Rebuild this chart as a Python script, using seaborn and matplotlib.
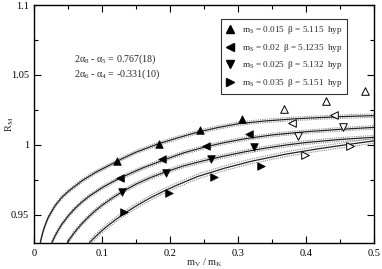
import matplotlib
matplotlib.use("Agg")
import matplotlib.pyplot as plt
import seaborn as sns
from matplotlib.ticker import MultipleLocator, FormatStrFormatter
from matplotlib.lines import Line2D

sns.set_theme(style="ticks")
plt.rcParams["font.family"] = ["Liberation Serif", "DejaVu Serif"]
plt.rcParams["mathtext.fontset"] = "custom"
plt.rcParams["mathtext.rm"] = "Liberation Serif"
plt.rcParams["mathtext.it"] = "Liberation Serif"

# legend text
ms_labels = ["0.015", "0.02", "0.025", "0.035"]
beta_labels = ["5.115", "5.1235", "5.132", "5.151"]

# fitted points (filled)
up_x = [0.122, 0.183, 0.244, 0.3054]
up_y = [0.9886, 1.0007, 1.0105, 1.0186]
left_x = [0.126, 0.188, 0.2515, 0.315]
left_y = [0.9762, 0.9898, 0.9995, 1.0079]
down_x = [0.129, 0.194, 0.259, 0.3235]
down_y = [0.9667, 0.9798, 0.99, 0.9988]
right_x = [0.132, 0.1976, 0.2647, 0.3324]
right_y = [0.952, 0.9655, 0.9768, 0.9852]

# points not in fit (open)
up_open_x = [0.3667, 0.428, 0.486]
up_open_y = [1.0257, 1.0316, 1.0383]
left_open_x = [0.379, 0.440]
left_open_y = [1.0154, 1.0216]
down_open_x = [0.388, 0.454]
down_open_y = [1.0066, 1.0131]
right_open_x = [0.3985, 0.4647]
right_open_y = [0.9931, 0.9995]

# fit curves
curve1_x = [0.0085, 0.009, 0.010, 0.012, 0.015, 0.02, 0.03, 0.04, 0.05, 0.07, 0.09, 0.11,
            0.13, 0.15, 0.18, 0.21, 0.24, 0.27, 0.30, 0.34, 0.38, 0.42, 0.46, 0.50]
curve1_y = [0.930, 0.9312, 0.9334, 0.9372, 0.9419, 0.948, 0.9565, 0.9625, 0.967, 0.9745, 0.9805, 0.9855,
            0.9905, 0.995, 1.0005, 1.005, 1.0092, 1.0125, 1.0152, 1.0172, 1.0186, 1.0196, 1.0204, 1.021]
curve2_x = [0.0254, 0.027, 0.03, 0.035, 0.04, 0.05, 0.06, 0.07, 0.08, 0.10, 0.12,
            0.14, 0.16, 0.19, 0.22, 0.25, 0.28, 0.31, 0.35, 0.40, 0.45, 0.50]
curve2_y = [0.930, 0.9318, 0.9348, 0.9393, 0.9432, 0.9496, 0.9549, 0.9594, 0.9633, 0.9697, 0.975,
            0.9795, 0.9838, 0.9893, 0.9945, 0.9985, 1.0018, 1.0045, 1.0072, 1.0095, 1.0112, 1.0126]
curve3_x = [0.048, 0.052, 0.056, 0.06, 0.07, 0.08, 0.09, 0.10, 0.115, 0.13, 0.15,
            0.17, 0.19, 0.22, 0.25, 0.28, 0.31, 0.34, 0.37, 0.40, 0.45, 0.50]
curve3_y = [0.930, 0.933, 0.9357, 0.9383, 0.944, 0.9489, 0.9533, 0.9572, 0.9623, 0.9669, 0.9722,
            0.9766, 0.9803, 0.9852, 0.9889, 0.9922, 0.9952, 0.9978, 1.0, 1.0018, 1.004, 1.0055]
curve4_x = [0.0805, 0.085, 0.09, 0.10, 0.11, 0.12, 0.135, 0.15, 0.17, 0.19, 0.21,
            0.24, 0.28, 0.32, 0.37, 0.42, 0.46, 0.50]
curve4_y = [0.930, 0.9323, 0.9347, 0.9392, 0.9432, 0.9469, 0.952, 0.9566, 0.9622, 0.967, 0.9714,
            0.9775, 0.9835, 0.9885, 0.9935, 0.9975, 1.0003, 1.003]
curve_err = [0.0012, 0.0012, 0.0013, 0.0017]

fig = plt.figure(figsize=(3.82, 2.69), dpi=100)
ax = fig.add_axes([0.0903, 0.0967, 0.890, 0.8847])

curves = [(curve1_x, curve1_y), (curve2_x, curve2_y), (curve3_x, curve3_y), (curve4_x, curve4_y)]
for (cx, cy), err in zip(curves, curve_err):
    for off in (-err, err):
        sns.lineplot(x=cx, y=[v + off for v in cy], ax=ax, color="#8a8a8a", lw=0.8,
                     dashes=False, linestyle=(0, (1, 1)), estimator=None, sort=False)
    sns.lineplot(x=cx, y=cy, ax=ax, color="#222222", lw=0.9, estimator=None, sort=False)

filled = [(up_x, up_y, "^"), (left_x, left_y, "<"), (down_x, down_y, "v"), (right_x, right_y, ">")]
opened = [(up_open_x, up_open_y, "^"), (left_open_x, left_open_y, "<"),
          (down_open_x, down_open_y, "v"), (right_open_x, right_open_y, ">")]

for px, py, m in filled:
    sns.scatterplot(x=px, y=py, ax=ax, marker=m, s=30, color="black", edgecolor="black",
                    linewidth=0.5, zorder=5)
for px, py, m in opened:
    ax.errorbar(px, py, yerr=0.0012, fmt="none", ecolor="black", elinewidth=0.6, capsize=0, zorder=4)
    sns.scatterplot(x=px, y=py, ax=ax, marker=m, s=30, facecolor="white", edgecolor="black",
                    linewidth=0.7, zorder=5)

ax.set_xlim(0, 0.5)
ax.set_ylim(0.93, 1.1)
ax.xaxis.set_major_locator(MultipleLocator(0.1))
ax.xaxis.set_minor_locator(MultipleLocator(0.05))
ax.yaxis.set_major_locator(MultipleLocator(0.05))
ax.yaxis.set_minor_locator(MultipleLocator(0.025))
ax.xaxis.set_major_formatter(FormatStrFormatter("%g"))
ax.yaxis.set_major_formatter(FormatStrFormatter("%g"))
ax.tick_params(which="both", direction="in", top=True, right=True, width=0.8,
               labelsize=7.5, colors="black", pad=4)
ax.tick_params(which="major", length=5)
ax.tick_params(which="minor", length=3)
for sp in ax.spines.values():
    sp.set_linewidth(1.0)
    sp.set_color("black")

ax.set_xlabel(r"m$_\mathrm{V}$ / m$_\mathrm{K}$", fontsize=7.5)
ax.set_ylabel(r"R$_\mathrm{M}$", fontsize=7.5)
ax.xaxis.set_label_coords(0.5, -0.055)
ax.yaxis.set_label_coords(-0.055, 0.5)

ax.text(0.116, 0.772, r"2α$_8$ - α$_5$ = 0.767(18)", transform=ax.transAxes,
        fontsize=7.2, va="center", ha="left")
ax.text(0.116, 0.709, r"2α$_6$ - α$_4$ = -0.331(10)", transform=ax.transAxes,
        fontsize=7.2, va="center", ha="left")

handles = [Line2D([], [], ls="none", marker=m, color="black", markersize=5.5) for m in "^<v>"]
labels = [r"m$_\mathrm{S}$ = " + ms + "  β = " + b + "  hyp" for ms, b in zip(ms_labels, beta_labels)]
leg = ax.legend(handles, labels, loc="upper left", bbox_to_anchor=(0.549, 0.941),
                borderaxespad=0, fontsize=6.6, frameon=True, fancybox=False,
                handlelength=0.8, handletextpad=0.9, labelspacing=0.62, borderpad=0.55)
leg.get_frame().set_edgecolor("black")
leg.get_frame().set_linewidth(0.8)

fig.savefig("out.png", dpi=100)
